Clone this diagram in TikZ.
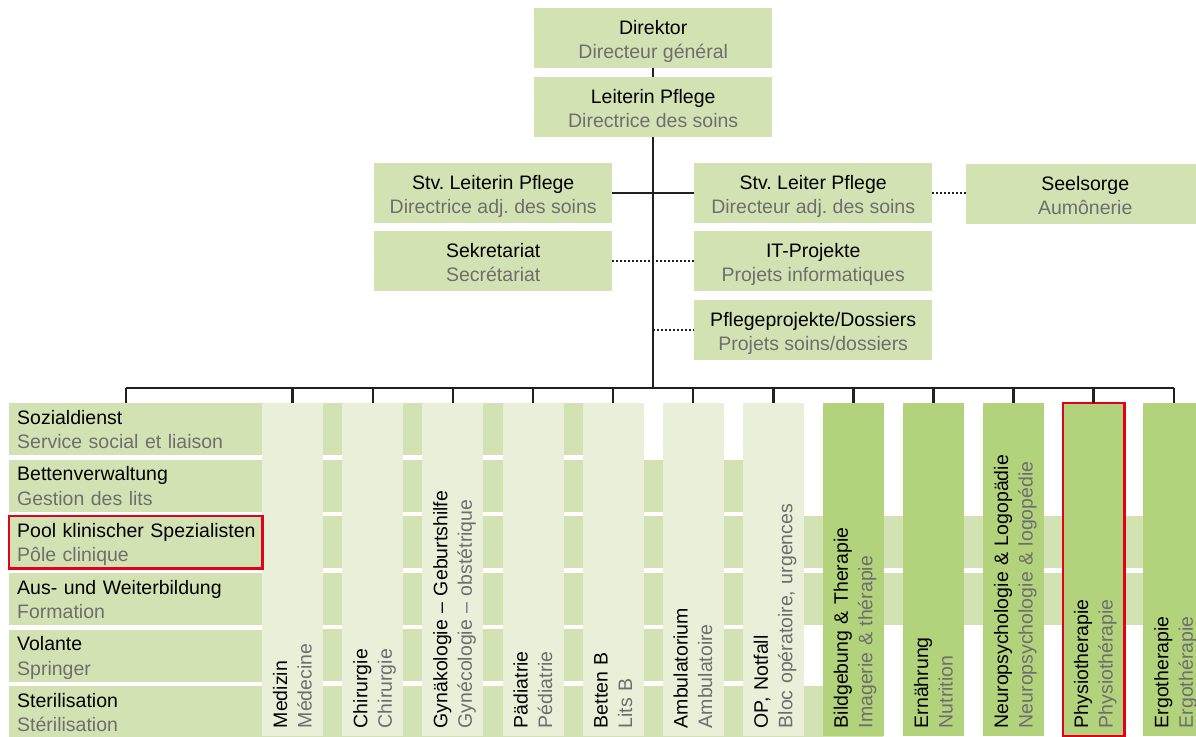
\documentclass[tikz,border=0pt]{standalone}
\usepackage{fontspec}
\setmainfont{Liberation Sans}
\frenchspacing
\definecolor{boxgreen}{RGB}{211,226,179}
\definecolor{lightgreen}{RGB}{233,239,217}
\definecolor{darkgreen}{RGB}{178,210,123}
\definecolor{textgray}{RGB}{110,110,110}
\definecolor{linegray}{RGB}{35,31,32}
\definecolor{markred}{RGB}{226,0,26}
\begin{document}
\begin{tikzpicture}[x=1pt,y=-1pt,
	font=\fontsize{19.5}{24.5}\selectfont,
	topbox/.style={fill=boxgreen,anchor=north west,minimum width=238pt,minimum height=60pt,inner sep=0pt,align=center},
	rowbox/.style={fill=boxgreen,anchor=north west,text width=237pt,minimum height=52pt,inner xsep=8pt,inner ysep=0pt,align=left},
	colbox/.style={rotate=90,anchor=north east,text width=317pt,minimum height=61pt,inner xsep=8pt,inner ysep=0pt,align=left},
	orgline/.style={draw=linegray,line width=2.5pt},
	dotline/.style={draw=linegray,line width=2pt,dash pattern=on 2pt off 2pt},
	redframe/.style={draw=markred,line width=2.5pt}]
			\newcommand{\toptext}[2]{
				\rule{0pt}{23pt}#1\\{\color{textgray}#2\rule[-6pt]{0pt}{6pt}}
			}\newcommand{\rowtext}[2]{
				\rule{0pt}{20.5pt}\mbox{#1}\\{\color{textgray}\mbox{#2}\rule[-6pt]{0pt}{6pt}}
			}\newcommand{\coltext}[2]{
				\rule{0pt}{19.5pt}\mbox{#1}\\{\color{textgray}\mbox{#2}\rule[-6pt]{0pt}{6pt}}
			}%Page size
			\useasboundingbox (0,0) rectangle (1196,736);
			%Management boxes at the top
			\node [topbox] (dir) at (534,8) {\toptext{Direktor}{Directeur général}};
			\node [topbox] (leit) at (534,77) {\toptext{Leiterin Pflege}{Directrice des soins}};
			\node [topbox] (stvl) at (374,163) {\toptext{Stv. Leiterin Pflege}{Directrice adj. des soins}};
			\node [topbox] (stvr) at (694,163) {\toptext{Stv. Leiter Pflege}{Directeur adj. des soins}};
			\node [topbox] (seel) at (966,164) {\toptext{Seelsorge}{Aumônerie}};
			\node [topbox] (sek) at (374,231) {\toptext{Sekretariat}{Secrétariat}};
			\node [topbox] (it) at (694,231) {\toptext{IT-Projekte}{Projets informatiques}};
			\node [topbox] (pp) at (694,300) {\toptext{Pflegeprojekte/Dossiers}{Projets soins/dossiers}};
			%Left end of the bus line
			\coordinate (busl) at (126,388);
			%Services on the left
			\foreach \a/\b [count=\n] in {Sozialdienst/Service social et liaison,
				Bettenverwaltung/Gestion des lits,
				Pool klinischer Spezialisten/Pôle clinique,
				Aus- und Weiterbildung/Formation,
				Volante/Springer,
				Sterilisation/Stérilisation} {
				\node [rowbox] (r\n) at (9,{403+56.6*(\n-1)}) {\rowtext{\a}{\b}};
			}
			%Bands of the rows between the columns
			\foreach \n/\e in {1/643,2/803,3/1204,4/1204,5/803,6/883} {
				\fill [boxgreen] (262,{403+56.6*(\n-1)}) rectangle (\e,{455+56.6*(\n-1)});
			}
			%Columns
			\foreach \a/\b/\f [count=\i] in {Medizin/Médecine/lightgreen,
				Chirurgie/Chirurgie/lightgreen,
				Gynäkologie – Geburtshilfe/Gynécologie – obstétrique/lightgreen,
				Pädiatrie/Pédiatrie/lightgreen,
				Betten B/Lits B/lightgreen,
				Ambulatorium/Ambulatoire/lightgreen,
				{OP, Notfall}/{Bloc opératoire, urgences}/lightgreen,
				Bildgebung \& Therapie/Imagerie \& thérapie/darkgreen,
				Ernährung/Nutrition/darkgreen,
				Neuropsychologie \& Logopädie/Neuropsychologie \& logopédie/darkgreen,
				Physiotherapie/Physiothérapie/darkgreen,
				Ergotherapie/Ergothérapie/darkgreen} {
				\node [colbox,fill=\f] (c\i) at ({262+80.1*(\i-1)},403) {\coltext{\a}{\b}};
			}
			%Red frames
			\draw [redframe] (r3.north west) rectangle (r3.south east);
			\draw [redframe] (c11.north west) rectangle (c11.south east);
			%Solid lines
			\draw [orgline] (dir.south) -- (leit.north);
			\draw [orgline] (leit.south) -- (leit.south |- busl);
			\draw [orgline] (stvl.east) -- (stvr.west);
			\draw [orgline] (busl) -- (busl -| c12.east);
			\draw [orgline] (busl) -- (busl |- r1.north);
			\foreach \i in {1,...,12} {
				\draw [orgline] (c\i.east) -- (c\i.east |- busl);
			}
			%Dotted lines
			\draw [dotline] (stvr.east) -- (stvr.east -| seel.west);
			\draw [dotline] (sek.east) -- (it.west);
			\draw [dotline] (leit.south |- pp.west) -- (pp.west);
\end{tikzpicture}
\end{document}
